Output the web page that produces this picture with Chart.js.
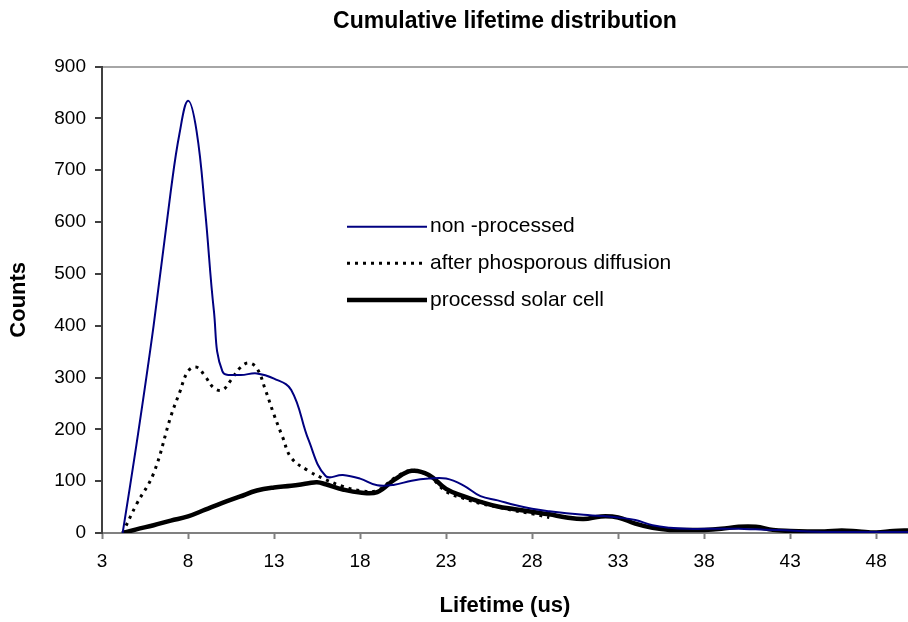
<!DOCTYPE html>
<html>
<head>
<meta charset="utf-8">
<script src="https://cdn.jsdelivr.net/npm/chart.js@4/dist/chart.umd.min.js"></script>
<style>
  html, body { margin: 0; padding: 0; background: #fff; }
  #wrap { width: 908px; height: 622px; }
</style>
</head>
<body>
<div id="wrap"><canvas id="chart"></canvas></div>
<script>
// Lifetime (us) values and counts, one pair of arrays per series
const nonProcessedX = [4.2, 5, 6, 7, 7.5, 8, 8.5, 9, 9.5, 10, 11, 12, 13, 14, 15, 16, 17, 18, 19, 20, 21, 22, 23, 24, 25, 26, 27, 28, 29, 30, 31, 32, 33, 34, 35, 36, 37, 38, 39, 40, 41, 42, 43, 44, 45, 46, 47, 48, 49, 50]
const nonProcessedY = [0, 170, 400, 660, 770, 834, 775, 620, 430, 312, 305, 308, 298, 276, 180, 110, 112, 105, 92, 93, 101, 105, 105, 92, 71, 63, 54, 47, 42, 38, 35, 33, 30, 25, 15, 10, 8, 8, 8, 8, 7, 6, 5, 3, 2, 2, 2, 2, 2, 2]

const diffusionX = [4.2, 5, 6, 7, 7.5, 8, 8.5, 9, 9.5, 10, 10.5, 11, 11.5, 12, 12.5, 13, 13.5, 14, 15, 16, 17, 18, 19, 20, 21, 22, 23, 24, 25, 26, 27, 28, 29]
const diffusionY = [0, 55, 115, 225, 270, 312, 320, 302, 280, 276, 295, 318, 328, 318, 276, 228, 185, 145, 120, 103, 90, 82, 82, 106, 121, 110, 80, 67, 57, 50, 43, 37, 30]

const solarCellX = [4.2, 5, 6, 7, 8, 9, 10, 11, 12, 13, 14, 15, 15.5, 16, 17, 18, 19, 20, 21, 22, 23, 24, 25, 26, 27, 28, 29, 30, 31, 32, 33, 34, 35, 36, 37, 38, 39, 40, 41, 42, 43, 44, 45, 46, 47, 48, 49, 50]
const solarCellY = [0, 7, 15, 24, 32, 45, 58, 70, 82, 88, 91, 96, 98, 94, 84, 78, 79, 103, 120, 112, 85, 71, 60, 51, 46, 41, 36, 30, 27, 32, 30, 18, 10, 6, 6, 6, 8, 12, 12, 6, 4, 3, 3, 5, 3, 1, 4, 5]

const seriesNames = ["non -processed", "after phosporous diffusion", "processd solar cell"]
const xTickValues = [3, 8, 13, 18, 23, 28, 33, 38, 43, 48]

const toPoints = (xs, ys) => xs.map((x, i) => ({ x: x, y: ys[i] }))

const FONT = "'Liberation Sans', Arial, sans-serif"
Chart.defaults.font.family = FONT
Chart.defaults.color = "#000"

// Legend sits inside the plot, Excel style
const insideLegend = {
  id: "insideLegend",
  afterDatasetsDraw(chart) {
    const ctx = chart.ctx
    const rows = [226.7, 263.3, 300]
    ctx.save()
    chart.data.datasets.forEach((ds, i) => {
      const y = rows[i]
      ctx.beginPath()
      ctx.strokeStyle = ds.borderColor
      ctx.lineWidth = ds.borderWidth
      ctx.setLineDash(ds.borderDash || [])
      ctx.moveTo(347, y)
      ctx.lineTo(427, y)
      ctx.stroke()
      ctx.setLineDash([])
      ctx.fillStyle = "#000"
      ctx.font = "21px " + FONT
      ctx.textBaseline = "middle"
      ctx.textAlign = "left"
      ctx.fillText(ds.label, 430, y)
    })
    ctx.restore()
  }
}

new Chart(document.getElementById("chart"), {
  type: "line",
  data: {
    datasets: [
      {
        label: seriesNames[0],
        data: toPoints(nonProcessedX, nonProcessedY),
        borderColor: "#000080",
        borderWidth: 2,
        pointRadius: 0,
        tension: 0.4
      },
      {
        label: seriesNames[1],
        data: toPoints(diffusionX, diffusionY),
        borderColor: "#000",
        borderWidth: 3,
        borderDash: [3, 5],
        pointRadius: 0,
        tension: 0.4
      },
      {
        label: seriesNames[2],
        data: toPoints(solarCellX, solarCellY),
        borderColor: "#000",
        borderWidth: 4.5,
        pointRadius: 0,
        tension: 0.4
      }
    ]
  },
  options: {
    responsive: true,
    maintainAspectRatio: false,
    animation: false,
    layout: { padding: 0 },
    plugins: {
      legend: { display: false },
      tooltip: { enabled: false },
      title: {
        display: true,
        text: "Cumulative lifetime distribution",
        fullSize: false,
        font: { size: 23, weight: "bold" },
        padding: { top: 8, bottom: 31 }
      }
    },
    scales: {
      x: {
        type: "linear",
        min: 3,
        max: 49.85,
        afterBuildTicks: (scale) => { scale.ticks = xTickValues.map(v => ({ value: v })) },
        afterFit: (scale) => { scale.height = 89 },
        ticks: { autoSkip: false, maxRotation: 0, padding: 11, font: { size: 19 } },
        grid: { drawOnChartArea: false, tickLength: 6, tickColor: "#808080", tickWidth: 2 },
        border: { color: "#808080", width: 2 },
        title: {
          display: true,
          text: "Lifetime (us)",
          font: { size: 22, weight: "bold" },
          padding: { top: 0, bottom: 3 }
        }
      },
      y: {
        min: 0,
        max: 900,
        afterFit: (scale) => { scale.width = 102 },
        ticks: { stepSize: 100, padding: 9, font: { size: 19 } },
        grid: {
          color: (c) => (c.tick && c.tick.value === 900 ? "#a6a6a6" : "rgba(0,0,0,0)"),
          lineWidth: 2,
          tickLength: 7,
          tickColor: "#404040",
          tickWidth: 2
        },
        border: { color: "#404040", width: 2 },
        title: {
          display: true,
          text: "Counts",
          font: { size: 22, weight: "bold" },
          padding: { top: 6, bottom: 0 }
        }
      }
    }
  },
  plugins: [insideLegend]
})
</script>
</body>
</html>
